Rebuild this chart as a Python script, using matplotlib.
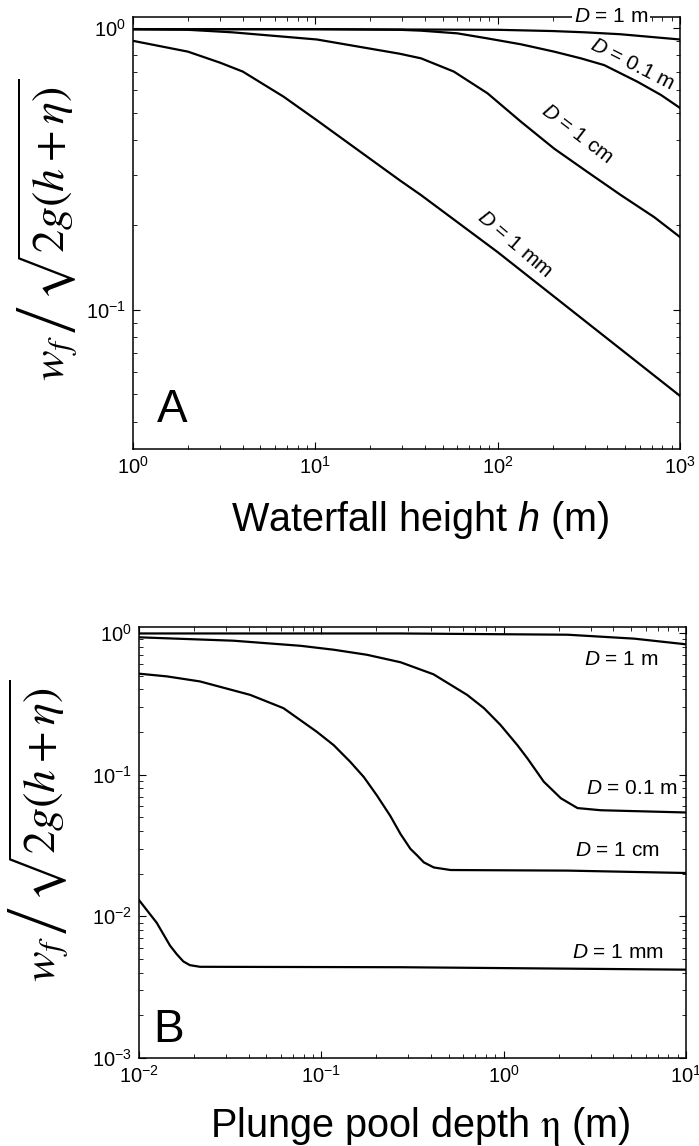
import numpy as np
import matplotlib
matplotlib.use('Agg')
import matplotlib.pyplot as plt
import matplotlib.transforms as mtransforms
from matplotlib.ticker import LogLocator, NullFormatter

plt.rcParams['font.family'] = ['Liberation Sans', 'DejaVu Sans']
plt.rcParams['mathtext.fontset'] = 'custom'
plt.rcParams['mathtext.rm'] = 'Liberation Sans'
plt.rcParams['mathtext.it'] = 'Liberation Sans:italic'
plt.rcParams['axes.unicode_minus'] = False

# --- panel A: ratio vs waterfall height h (m) ---
h_1m = [1, 10, 100, 200, 300, 470, 1000]
a_1m = [0.99, 0.99, 0.985, 0.975, 0.965, 0.95, 0.91]

h_01m = [1, 10, 29, 38, 60, 88, 134, 204, 286, 384, 585, 787, 1000]
a_01m = [0.99, 0.99, 0.985, 0.978, 0.957, 0.918, 0.875, 0.824, 0.78, 0.738, 0.644, 0.578, 0.52]

h_1cm = [1, 2, 3.5, 10.2, 29, 38, 57.5, 88, 134, 204, 311, 474, 722, 1000]
a_1cm = [0.99, 0.985, 0.965, 0.91, 0.81, 0.78, 0.70, 0.586, 0.465, 0.373, 0.308, 0.255, 0.213, 0.181]

h_1mm = [1, 2, 3, 4, 6.7, 10.2, 29, 38, 100, 1000]
a_1mm = [0.90, 0.824, 0.753, 0.70, 0.57, 0.47, 0.288, 0.255, 0.16, 0.0494]

# --- panel B: ratio vs plunge pool depth eta (m) ---
e_1m = [0.01, 0.1, 0.27, 2.24, 5.2, 10]
b_1m = [0.99, 0.99, 0.99, 0.97, 0.91, 0.83]

e_01m = [0.01, 0.033, 0.077, 0.117, 0.178, 0.272, 0.412, 0.63, 0.78, 0.96, 1.19, 1.35,
         1.66, 2.06, 2.54, 3.41, 10]
b_01m = [0.93, 0.88, 0.81, 0.76, 0.70, 0.62, 0.51, 0.365, 0.294, 0.224, 0.161, 0.13,
         0.089, 0.068, 0.058, 0.056, 0.054]

e_1cm = [0.01, 0.0142, 0.0216, 0.0407, 0.062, 0.0946, 0.117, 0.144, 0.171, 0.202, 0.239,
         0.272, 0.308, 0.336, 0.365, 0.414, 0.512, 2.24, 10]
b_1cm = [0.515, 0.493, 0.454, 0.365, 0.294, 0.20, 0.161, 0.123, 0.096, 0.071, 0.051,
         0.038, 0.0299, 0.0268, 0.024, 0.0221, 0.0212, 0.021, 0.0202]

e_1mm = [0.01, 0.0125, 0.0148, 0.0161, 0.0175, 0.019, 0.0216, 0.272, 10]
b_1mm = [0.013, 0.009, 0.0062, 0.0054, 0.0048, 0.00452, 0.0044, 0.00437, 0.0042]

ylab = r'$w_f\,\left/\,\sqrt{2g(h+\eta)}\right.$'

fig = plt.figure(figsize=(6.99, 11.46), dpi=100)
axA = fig.add_axes([0.1903, 0.6082, 0.7825, 0.3770])
axB = fig.add_axes([0.1989, 0.0768, 0.7825, 0.3761])

lw = 1.6
for x, y in [(h_1m, a_1m), (h_01m, a_01m), (h_1cm, a_1cm), (h_1mm, a_1mm)]:
    axA.plot(x, y, color='black', lw=lw)
for x, y in [(e_1m, b_1m), (e_01m, b_01m), (e_1cm, b_1cm), (e_1mm, b_1mm)]:
    axB.plot(x, y, color='black', lw=lw)

for ax in (axA, axB):
    ax.set_xscale('log')
    ax.set_yscale('log')
    ax.xaxis.set_major_locator(LogLocator(base=10))
    ax.yaxis.set_major_locator(LogLocator(base=10))
    ax.xaxis.set_minor_locator(LogLocator(base=10, subs=np.arange(2, 10)))
    ax.yaxis.set_minor_locator(LogLocator(base=10, subs=np.arange(2, 10)))
    ax.xaxis.set_minor_formatter(NullFormatter())
    ax.yaxis.set_minor_formatter(NullFormatter())
    ax.tick_params(which='both', direction='in', top=True, right=True, labelsize=14.5)
    ax.tick_params(which='major', length=5, width=0.8, pad=5)
    ax.tick_params(which='minor', length=3, width=0.6)
    for s in ax.spines.values():
        s.set_linewidth(1.1)

axA.set_xlim(1, 1000)
axA.set_ylim(0.032, 1.094)
axB.set_xlim(0.01, 10)
axB.set_ylim(0.001, 1.1)

axA.set_xlabel('Waterfall height $\\mathit{h}$ (m)', fontsize=28.5)
axA.xaxis.set_label_coords(0.525, -0.115)
axB.set_xlabel('Plunge pool depth $\\mathrm{\\eta}$ (m)', fontsize=28.5, math_fontfamily='stix')
axB.xaxis.set_label_coords(0.514, -0.108)

axA.set_ylabel(ylab, fontsize=33, math_fontfamily='stix')
axA.yaxis.set_label_coords(-0.095, 0.507)
axB.set_ylabel(ylab, fontsize=33, math_fontfamily='stix')
axB.yaxis.set_label_coords(-0.122, 0.527)

axA.text(0.071, 0.09, 'A', transform=axA.transAxes, fontsize=33, ha='center', va='center')
axB.text(0.054, 0.065, 'B', transform=axB.transAxes, fontsize=33, ha='center', va='center')

# curve labels, panel A
fs = 15
tA = mtransforms.blended_transform_factory(axA.transData, axA.transAxes)
axA.text(418, 1.0, '$\\mathit{D}$ = 1 m', transform=tA, fontsize=fs, ha='center', va='center',
         bbox=dict(facecolor='white', edgecolor='none', pad=1.5), clip_on=False, zorder=5)
axA.text(550, 0.743, '$\\mathit{D}$ = 0.1 m', fontsize=fs, rotation=-27, ha='center', va='center',
         rotation_mode='anchor')
axA.text(274, 0.421, '$\\mathit{D}$ = 1 cm', fontsize=fs, rotation=-37.5, ha='center', va='center',
         rotation_mode='anchor')
axA.text(124, 0.171, '$\\mathit{D}$ = 1 mm', fontsize=fs, rotation=-40.5, ha='center', va='center',
         rotation_mode='anchor')

# curve labels, panel B
axB.text(4.4, 0.644, '$\\mathit{D}$ = 1 m', fontsize=fs, ha='center', va='center')
axB.text(5.05, 0.0796, '$\\mathit{D}$ = 0.1 m', fontsize=fs, ha='center', va='center')
axB.text(4.2, 0.0289, '$\\mathit{D}$ = 1 cm', fontsize=fs, ha='center', va='center')
axB.text(4.23, 0.00556, '$\\mathit{D}$ = 1 mm', fontsize=fs, ha='center', va='center')

fig.savefig('out.png', dpi=100)
